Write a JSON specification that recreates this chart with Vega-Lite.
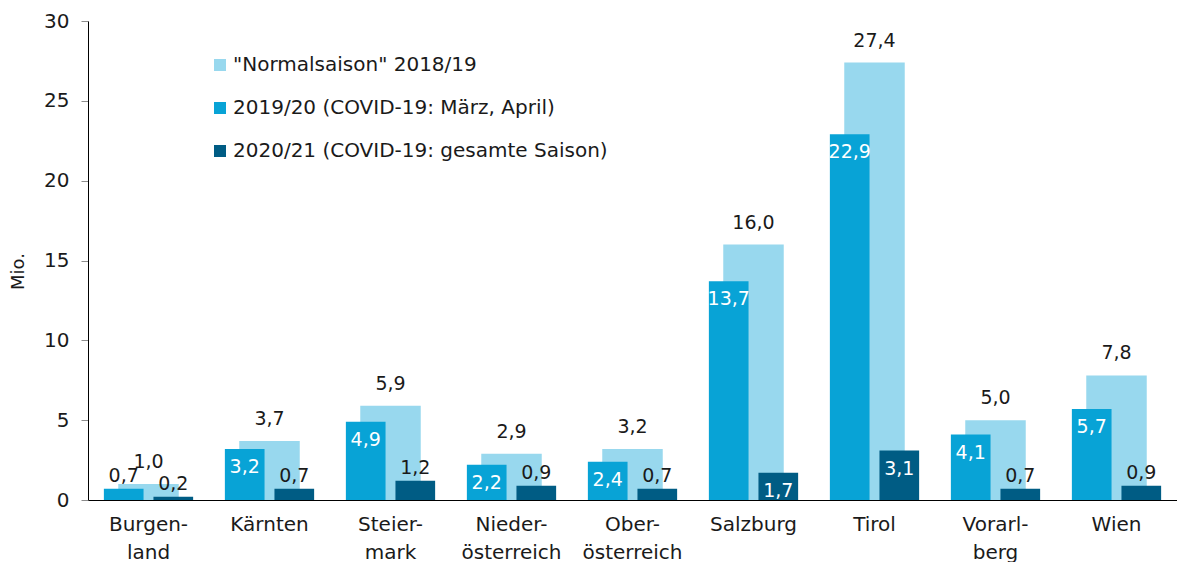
{
  "$schema": "https://vega.github.io/schema/vega-lite/v6.json",
  "width": 1089,
  "height": 479,
  "autosize": {"type": "none"},
  "padding": {"left": 88, "top": 21, "right": 0, "bottom": 62},
  "config": {
    "locale": {"number": {"decimal": ",", "thousands": ".", "grouping": [3], "currency": ["", " €"]}},
    "font": "DejaVu Sans",
    "view": {"stroke": null},
    "axis": {"grid": false}
  },
  "data": {
    "values": [
      {"region": "Burgenland", "series": "\"Normalsaison\" 2018/19", "value": 1.0},
      {"region": "Burgenland", "series": "2019/20 (COVID-19: März, April)", "value": 0.7},
      {"region": "Burgenland", "series": "2020/21 (COVID-19: gesamte Saison)", "value": 0.2},
      {"region": "Kärnten", "series": "\"Normalsaison\" 2018/19", "value": 3.7},
      {"region": "Kärnten", "series": "2019/20 (COVID-19: März, April)", "value": 3.2},
      {"region": "Kärnten", "series": "2020/21 (COVID-19: gesamte Saison)", "value": 0.7},
      {"region": "Steiermark", "series": "\"Normalsaison\" 2018/19", "value": 5.9},
      {"region": "Steiermark", "series": "2019/20 (COVID-19: März, April)", "value": 4.9},
      {"region": "Steiermark", "series": "2020/21 (COVID-19: gesamte Saison)", "value": 1.2},
      {"region": "Niederösterreich", "series": "\"Normalsaison\" 2018/19", "value": 2.9},
      {"region": "Niederösterreich", "series": "2019/20 (COVID-19: März, April)", "value": 2.2},
      {"region": "Niederösterreich", "series": "2020/21 (COVID-19: gesamte Saison)", "value": 0.9},
      {"region": "Oberösterreich", "series": "\"Normalsaison\" 2018/19", "value": 3.2},
      {"region": "Oberösterreich", "series": "2019/20 (COVID-19: März, April)", "value": 2.4},
      {"region": "Oberösterreich", "series": "2020/21 (COVID-19: gesamte Saison)", "value": 0.7},
      {"region": "Salzburg", "series": "\"Normalsaison\" 2018/19", "value": 16.0},
      {"region": "Salzburg", "series": "2019/20 (COVID-19: März, April)", "value": 13.7},
      {"region": "Salzburg", "series": "2020/21 (COVID-19: gesamte Saison)", "value": 1.7},
      {"region": "Tirol", "series": "\"Normalsaison\" 2018/19", "value": 27.4},
      {"region": "Tirol", "series": "2019/20 (COVID-19: März, April)", "value": 22.9},
      {"region": "Tirol", "series": "2020/21 (COVID-19: gesamte Saison)", "value": 3.1},
      {"region": "Vorarlberg", "series": "\"Normalsaison\" 2018/19", "value": 5.0},
      {"region": "Vorarlberg", "series": "2019/20 (COVID-19: März, April)", "value": 4.1},
      {"region": "Vorarlberg", "series": "2020/21 (COVID-19: gesamte Saison)", "value": 0.7},
      {"region": "Wien", "series": "\"Normalsaison\" 2018/19", "value": 7.8},
      {"region": "Wien", "series": "2019/20 (COVID-19: März, April)", "value": 5.7},
      {"region": "Wien", "series": "2020/21 (COVID-19: gesamte Saison)", "value": 0.9}
    ]
  },
  "encoding": {
    "x": {
      "field": "region", "type": "nominal", "sort": null,
      "scale": {"paddingInner": 0, "paddingOuter": 0},
      "axis": {
        "title": null, "domainColor": "#000000", "domainWidth": 1, "ticks": false,
        "labelFontSize": 20, "labelColor": "#1a1a1a", "labelPadding": 14, "labelLineHeight": 28,
        "labelAngle": 0, "labelLimit": 200,
        "labelExpr": "datum.label == 'Burgenland' ? ['Burgen-', 'land'] : datum.label == 'Steiermark' ? ['Steier-', 'mark'] : datum.label == 'Niederösterreich' ? ['Nieder-', 'österreich'] : datum.label == 'Oberösterreich' ? ['Ober-', 'österreich'] : datum.label == 'Vorarlberg' ? ['Vorarl-', 'berg'] : datum.label"
      }
    },
    "y": {
      "field": "value", "type": "quantitative",
      "scale": {"domain": [0, 30]},
      "axis": {
        "title": "Mio.", "titleFontSize": 18, "titleFontWeight": "normal", "titleColor": "#1a1a1a",
        "titleX": -70, "titleY": 250, "titleAngle": 270, "titleAlign": "center", "titleBaseline": "middle",
        "values": [0, 5, 10, 15, 20, 25, 30],
        "tickSize": 7, "tickColor": "#8c8c8c", "domainColor": "#000000",
        "labelFontSize": 20, "labelPadding": 12, "labelColor": "#1a1a1a"
      }
    }
  },
  "layer": [
    {
      "transform": [{"filter": {"field": "series", "equal": "\"Normalsaison\" 2018/19"}}],
      "mark": {"type": "bar", "width": {"band": 0.5}},
      "encoding": {
        "color": {
          "field": "series", "type": "nominal",
          "scale": {"domain": ["\"Normalsaison\" 2018/19", "2019/20 (COVID-19: März, April)", "2020/21 (COVID-19: gesamte Saison)"], "range": ["#98D8EE", "#08A3D6", "#005C84"]},
          "legend": {
            "orient": "none", "legendX": 122, "legendY": 34, "title": null,
            "symbolType": "square", "symbolSize": 144, "symbolStrokeWidth": 0,
            "labelFontSize": 20, "labelColor": "#1a1a1a", "rowPadding": 23, "labelOffset": 3,
            "labelLimit": 600, "padding": 0
          }
        }
      }
    },
    {
      "transform": [{"filter": {"field": "series", "oneOf": ["2019/20 (COVID-19: März, April)", "2020/21 (COVID-19: gesamte Saison)"]}}],
      "mark": "bar",
      "encoding": {
        "xOffset": {"field": "series", "type": "nominal", "scale": {"domain": ["2019/20 (COVID-19: März, April)", "2020/21 (COVID-19: gesamte Saison)"], "paddingInner": 0.2, "paddingOuter": 0.32}},
        "color": {
          "field": "series", "type": "nominal",
          "scale": {"domain": ["\"Normalsaison\" 2018/19", "2019/20 (COVID-19: März, April)", "2020/21 (COVID-19: gesamte Saison)"], "range": ["#98D8EE", "#08A3D6", "#005C84"]}
        }
      }
    },
    {
      "transform": [{"filter": {"field": "series", "equal": "\"Normalsaison\" 2018/19"}}],
      "mark": {"type": "text", "baseline": "alphabetic", "dy": -16, "fontSize": 19, "color": "#1a1a1a"},
      "encoding": {"text": {"field": "value", "type": "quantitative", "format": ".1f"}}
    },
    {
      "transform": [
        {"filter": {"field": "series", "oneOf": ["2019/20 (COVID-19: März, April)", "2020/21 (COVID-19: gesamte Saison)"]}},
        {"filter": {"field": "value", "gte": 1.5}}
      ],
      "mark": {"type": "text", "baseline": "alphabetic", "dy": 24, "fontSize": 19, "color": "#ffffff"},
      "encoding": {
        "xOffset": {"field": "series", "type": "nominal", "scale": {"domain": ["2019/20 (COVID-19: März, April)", "2020/21 (COVID-19: gesamte Saison)"], "paddingInner": 0.2, "paddingOuter": 0.32}},
        "text": {"field": "value", "type": "quantitative", "format": ".1f"}
      }
    },
    {
      "transform": [
        {"filter": {"field": "series", "oneOf": ["2019/20 (COVID-19: März, April)", "2020/21 (COVID-19: gesamte Saison)"]}},
        {"filter": {"field": "value", "lt": 1.5}}
      ],
      "mark": {"type": "text", "baseline": "alphabetic", "dy": -7, "fontSize": 19, "color": "#1a1a1a"},
      "encoding": {
        "xOffset": {"field": "series", "type": "nominal", "scale": {"domain": ["2019/20 (COVID-19: März, April)", "2020/21 (COVID-19: gesamte Saison)"], "paddingInner": 0.2, "paddingOuter": 0.32}},
        "text": {"field": "value", "type": "quantitative", "format": ".1f"}
      }
    }
  ]
}
